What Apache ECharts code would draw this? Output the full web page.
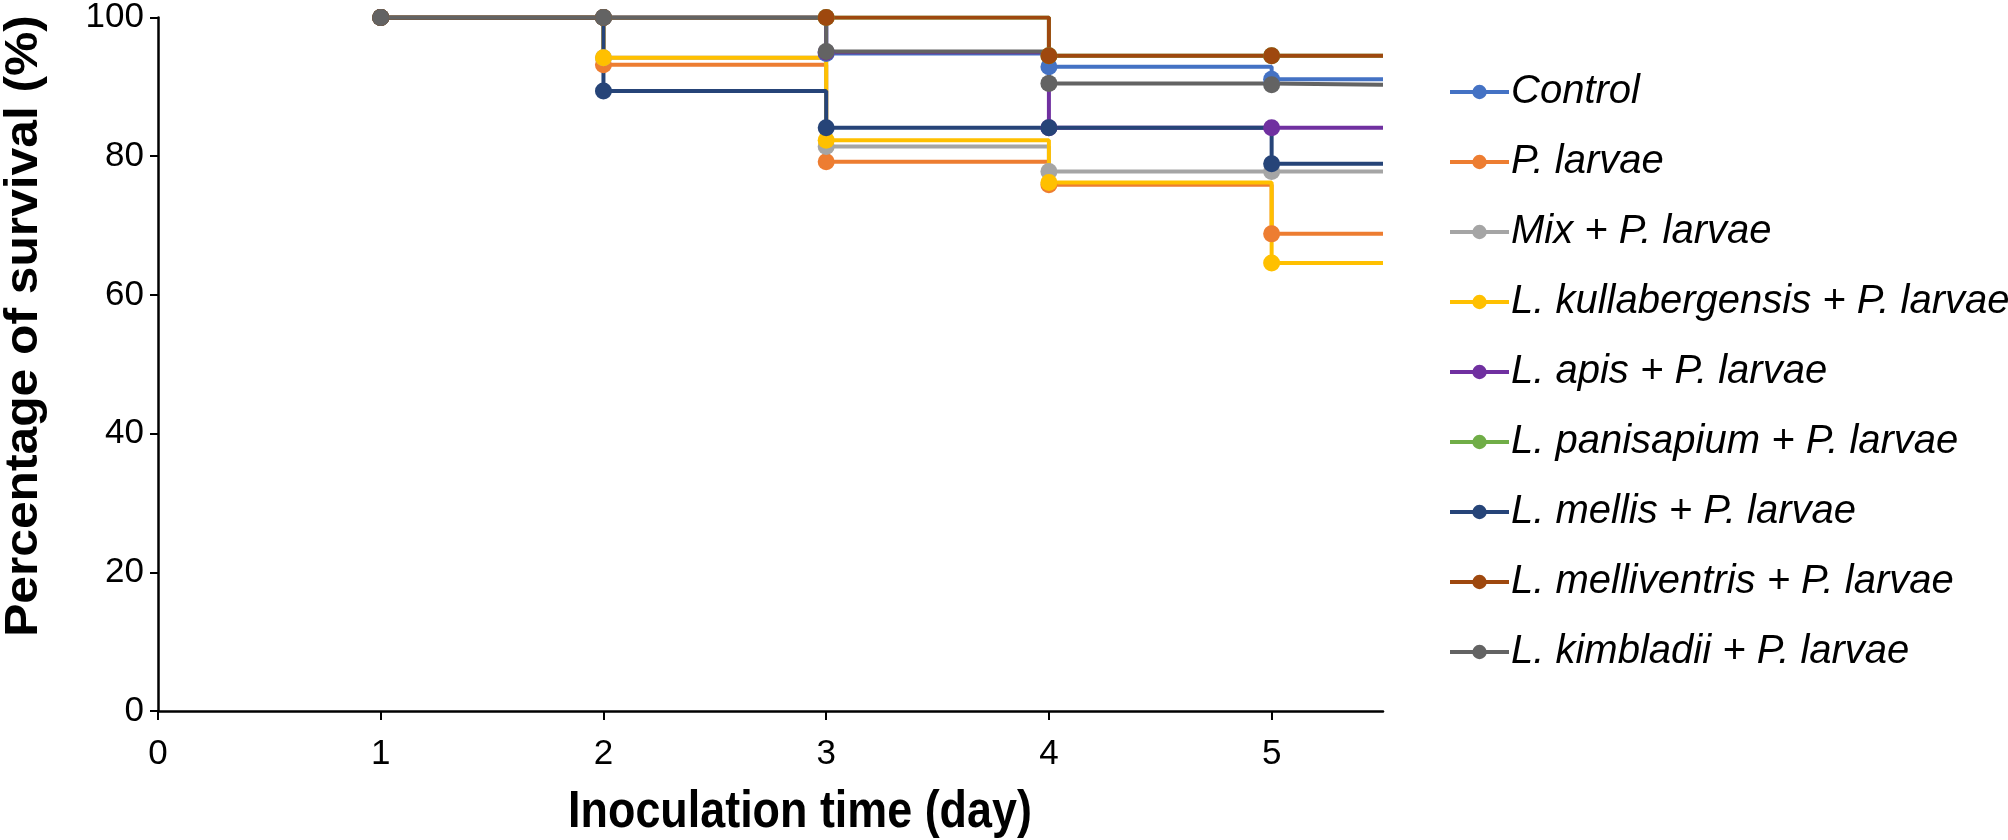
<!DOCTYPE html>
<html><head><meta charset="utf-8">
<script src="https://cdn.jsdelivr.net/npm/echarts@6/dist/echarts.min.js"></script>
<style>html,body{margin:0;padding:0;background:#fff}#c{width:2008px;height:840px}</style>
</head><body><div id="c"></div>
<script>
const days = [1, 2, 3, 4, 5];
const xEnd = 5.5;
const xTickValues = [0, 1, 2, 3, 4, 5];
const seriesNames = [
  'Control', 'P. larvae', 'Mix + P. larvae', 'L. kullabergensis + P. larvae',
  'L. apis + P. larvae', 'L. panisapium + P. larvae', 'L. mellis + P. larvae',
  'L. melliventris + P. larvae', 'L. kimbladii + P. larvae'
];
const control        = [100, 100, 94.8, 92.9, 91.1];
const pLarvae        = [100, 93.2, 79.2, 75.9, 68.8];
const mix            = [100, 94.2, 81.4, 77.8, 77.8];
const kullabergensis = [100, 94.2, 82.3, 76.2, 64.6];
const apis           = [100, 100, 95.0, 84.1, 84.1];
const panisapium     = [100, 100, 100, 94.5, 94.5];
const mellis         = [100, 89.4, 84.1, 84.1, 78.9];
const melliventris   = [100, 100, 100, 94.5, 94.5];
const kimbladii      = [100, 100, 95.1, 90.5, 90.3];
const allValues = [control, pLarvae, mix, kullabergensis, apis, panisapium, mellis, melliventris, kimbladii];
const colors = ['#4472C4', '#ED7D31', '#A5A5A5', '#FFC000', '#7030A0', '#70AD47', '#264478', '#9E480E', '#636363'];

const FONT = '"Liberation Sans", Arial, sans-serif';
const NARROW = '"Liberation Sans Narrow", "Arial Narrow", "Liberation Sans", sans-serif';
const series = seriesNames.map((name, i) => {
  const vals = allValues[i];
  const data = days.map((d, j) => [d, vals[j]]);
  data.push({ value: [xEnd, vals[vals.length - 1]], symbol: 'none' });
  return {
    name, type: 'line', step: 'end', data,
    symbol: 'circle', symbolSize: 17,
    lineStyle: { width: 4, color: colors[i] },
    itemStyle: { color: colors[i] },
    emphasis: { disabled: true },
    animation: false
  };
});

const chart = echarts.init(document.getElementById('c'), null, { renderer: 'canvas' });
chart.setOption({
  animation: false,
  backgroundColor: '#fff',
  grid: { left: 158, top: 15, width: 1225, height: 696, containLabel: false },
  xAxis: {
    type: 'value', min: 0, max: xEnd, interval: 1,
    axisLine: { show: true, onZero: false, lineStyle: { color: '#000', width: 2.5 } },
    axisTick: { show: true, length: 9, customValues: xTickValues, lineStyle: { color: '#000', width: 2 } },
    axisLabel: { customValues: xTickValues, margin: 26, fontSize: 35, color: '#000', fontFamily: NARROW },
    splitLine: { show: false }
  },
  yAxis: {
    type: 'value', min: 0, max: 100, interval: 20,
    axisLine: { show: true, onZero: false, lineStyle: { color: '#000', width: 2.5 } },
    axisTick: { show: true, length: 8, lineStyle: { color: '#000', width: 2 } },
    axisLabel: { margin: 14, fontSize: 35, color: '#000', fontFamily: NARROW },
    splitLine: { show: false }
  },
  legend: {
    orient: 'vertical', left: 1443, top: 67,
    itemWidth: 59, itemHeight: 18, itemGap: 30,
    lineStyle: { width: 4 },
    textStyle: { fontSize: 40, fontStyle: 'italic', color: '#000', fontFamily: FONT, lineHeight: 40, padding: [0, 0, 0, -3] },
    data: seriesNames
  },
  graphic: [
    { type: 'text', x: 800, y: 813, scaleX: 1.02, scaleY: 1.18, style: {
        text: 'Inoculation time (day)', font: 'bold 44px ' + FONT, fill: '#000',
        x: 0, y: 0, align: 'center', verticalAlign: 'middle' } },
    { type: 'text', rotation: Math.PI / 2, x: 24, y: 326, scaleX: 1.13, scaleY: 1.05, style: {
        text: 'Percentage of survival (%)', font: 'bold 44px ' + FONT, fill: '#000',
        x: 0, y: 0, align: 'center', verticalAlign: 'middle' } }
  ],
  series
});
</script></body></html>
